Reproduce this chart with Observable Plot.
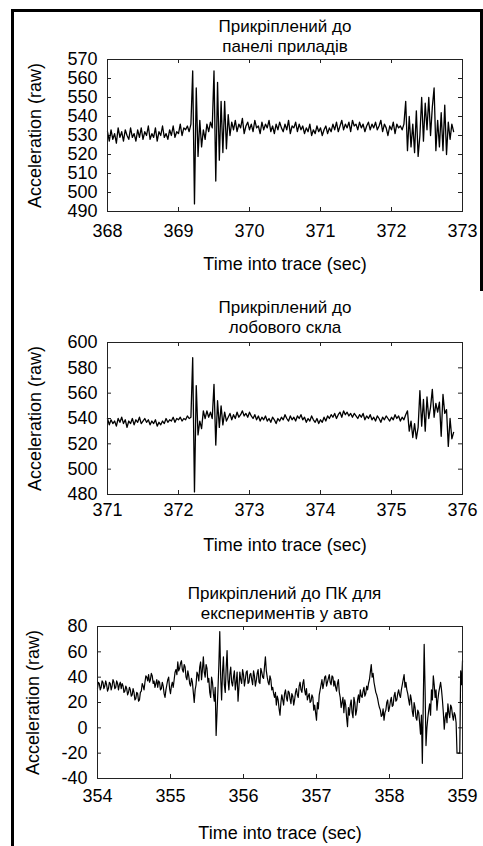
<!DOCTYPE html>
<html>
<head>
<meta charset="utf-8">
<script src="https://cdn.jsdelivr.net/npm/d3@7"></script>
<script src="https://cdn.jsdelivr.net/npm/@observablehq/plot@0.6"></script>
<style>
html, body { margin: 0; padding: 0; background: #fff; }
body { width: 483px; height: 846px; overflow: hidden; position: relative; font-family: "Liberation Sans", Arial, sans-serif; }
.panel { position: absolute; left: 0; }
#frame { position: absolute; left: 11px; top: 9px; width: 480px; height: 900px; border-left: 3px solid #000; border-top: 3px solid #000; z-index: 5; }
#rightbar { position: absolute; left: 480px; top: 9px; width: 3px; height: 282px; background: #000; z-index: 5; }
</style>
</head>
<body>
<div id="p1" class="panel" style="top:4px"></div>
<div id="p2" class="panel" style="top:287px"></div>
<div id="p3" class="panel" style="top:571px"></div>
<div id="frame"></div>
<div id="rightbar"></div>
<script>
// ---------- texts ----------
const titles = [
  "Прикріплений до\nпанелі приладів",
  "Прикріплений до\nлобового скла",
  "Прикріплений до ПК для\nекспериментів у авто"
];
const xLabel = "Time into trace (sec)";
const yLabel = "Acceleration (raw)";

// ---------- tick labels ----------
const xTicks1 = [368, 369, 370, 371, 372, 373];
const yTicks1 = [490, 500, 510, 520, 530, 540, 550, 560, 570];
const xTicks2 = [371, 372, 373, 374, 375, 376];
const yTicks2 = [480, 500, 520, 540, 560, 580, 600];
const xTicks3 = [354, 355, 356, 357, 358, 359];
const yTicks3 = [-40, -20, 0, 20, 40, 60, 80];

// ---------- sampling (start time, step in sec) ----------
const start1 = 368, step1 = 0.025;
const start2 = 371, step2 = 0.025;
const start3 = 354, step3 = 0.0125;

// ---------- series values ----------
const values1 = [
  532,527,533,528,531,526,534,529,532,527,
  533,530,528,534,529,531,527,533,529,534,
  528,532,530,535,528,531,529,534,527,532,
  530,535,529,531,528,533,530,535,529,532,
  531,536,530,534,533,535,
  532,536,564,494,555,519,538,524,533,528,
  536,532,537,534,564,506,558,517,548,521,
  548,523,541,530,537,
  533,538,532,536,534,539,531,535,537,533,536,532,538,534,535,531,537,533,536,534,
  538,532,535,531,536,533,537,534,532,536,533,538,531,535,534,537,532,536,533,535,
  531,534,532,536,530,533,531,535,532,534,530,533,535,531,534,532,536,533,537,532,
  535,538,533,536,534,537,532,538,535,536,533,537,534,536,532,535,537,533,536,534,
  537,533,535,538,532,536,534,530,535,533,537,531,536,534,535,533,536,
  548,522,540,524,536,521,543,519,530,550,
  527,547,533,550,530,545,555,522,538,524,
  542,522,546,520,537,528,536,532
];
const values2 = [
  540,535,539,536,538,534,540,537,541,536,
  539,533,538,536,540,535,539,537,541,536,
  538,540,537,539,535,538,536,539,534,537,
  535,538,536,540,537,539,538,541,537,540,
  539,541,538,540,539,542,540,
  541,588,482,566,527,538,532,546,540,546,541,545,540,567,519,554,533,550,535,545,538,
  541,544,539,543,540,545,541,543,546,542,
  544,541,545,542,540,543,539,542,538,541,
  539,542,538,540,537,541,539,536,540,538,
  541,539,543,540,538,542,539,541,538,542,
  540,543,539,541,537,540,538,542,539,537,
  540,536,539,537,541,538,542,540,543,541,
  544,540,543,545,541,546,543,545,542,544,
  541,544,542,540,543,541,544,539,542,540,
  543,539,541,538,542,540,537,541,539,542,
  540,538,541,539,543,540,542,538,541,539,543,
  546,530,538,525,536,524,533,562,534,555,530,557,540,549,563,541,552,545,553,526,559,544,547,518,540,524,529
];
const values3 = [
  31,36,35,30,32,37,36,31,33,37,
  34,29,31,36,35,30,33,38,36,31,
  32,37,35,30,34,36,31,35,33,28,
  29,33,31,26,28,32,30,25,26,31,
  28,22,23,28,27,21,22,28,29,35,
  33,30,36,41,40,37,42,36,38,43,
  41,35,37,32,35,38,32,37,36,30,
  31,36,33,27,24,30,34,38,40,31,
  27,33,36,32,38,44,46,42,52,45,
  47,51,53,46,44,50,48,40,38,45,
  41,35,33,39,36,28,20,30,34,44,
  42,37,48,52,38,46,56,44,40,50,
  47,36,39,28,24,40,36,27,21,32,
  -6,12,30,50,76,40,22,44,56,34,
  28,47,61,38,30,42,48,36,33,40,
  45,30,36,44,21,32,44,38,35,46,
  42,33,38,44,45,35,36,42,43,38,
  34,45,41,33,37,43,46,36,35,47,
  44,40,39,48,56,45,40,36,34,41,
  38,30,32,27,24,28,18,25,22,15,
  10,20,26,22,18,27,30,24,21,29,
  28,23,19,27,25,18,22,28,31,26,
  24,33,36,30,28,35,38,30,26,31,
  22,25,27,20,21,26,24,14,18,12,
  6,20,15,26,30,34,38,31,35,40,
  41,33,36,39,42,36,34,41,40,33,
  37,32,29,35,38,28,24,16,20,24,
  12,22,18,8,1,16,10,18,22,12,
  8,24,20,10,14,22,26,20,30,25,
  24,29,32,25,27,33,30,35,38,44,
  50,40,43,36,32,28,26,23,19,16,
  14,9,10,15,6,12,14,20,22,13,
  16,21,24,17,18,25,28,21,22,27,
  30,26,24,30,34,38,42,32,36,30,
  27,22,18,26,22,13,9,20,16,8,
  6,14,12,4,-5,10,-28,20,66,30,
  -14,0,8,14,19,10,30,22,41,34,
  24,30,14,22,28,32,36,30,22,12,
  -1,8,12,4,19,12,8,18,16,10,
  6,12,10,4,-20,-20,-20,-20,45,34,
  53
];

const FONT = '"Liberation Sans", Arial, Helvetica, sans-serif';

function drawPanel(el, cfg) {
  const data = cfg.values.map((v, i) => ({t: cfg.start + i * cfg.step, v}));
  const W = 483, mt = 55, mb = 70, mr = 21, plotH = 152;
  const plotW = W - cfg.ml - mr;
  const fmt = d => String(d);
  const chart = Plot.plot({
    width: W,
    height: mt + plotH + mb,
    marginLeft: cfg.ml, marginRight: mr, marginTop: mt, marginBottom: mb,
    style: {background: "transparent", fontFamily: FONT, color: "#000", overflow: "visible"},
    x: {domain: cfg.xDomain, label: null},
    y: {domain: cfg.yDomain, label: null},
    marks: [
      Plot.ruleX(cfg.xTicks, {x: d => d, insetTop: plotH - 4, stroke: "#222"}),
      Plot.ruleX(cfg.xTicks, {x: d => d, insetBottom: plotH - 4, stroke: "#222"}),
      Plot.ruleY(cfg.yTicks, {y: d => d, insetRight: plotW - 4, stroke: "#222"}),
      Plot.ruleY(cfg.yTicks, {y: d => d, insetLeft: plotW - 4, stroke: "#222"}),
      Plot.line(data, {x: "t", y: "v", stroke: "#000", strokeWidth: cfg.sw}),
      Plot.frame({stroke: "#222", strokeWidth: 1}),
      Plot.axisX(cfg.xTicks, {tickSize: 0, tickPadding: cfg.xPad, tickFormat: fmt, fontSize: 18, label: null}),
      Plot.axisY(cfg.yTicks, {tickSize: 0, tickPadding: 10, tickFormat: fmt, fontSize: 18, label: null}),
      Plot.text([cfg.title], {text: d => d, frameAnchor: "top", textAnchor: "middle", lineAnchor: "middle",
        dy: cfg.titleDy, dx: cfg.titleDx, fontSize: 17, lineHeight: 1.17, fill: "#000"}),
      Plot.text([xLabel], {text: d => d, frameAnchor: "bottom", textAnchor: "middle", lineAnchor: "middle",
        dy: cfg.xLabelDy, fontSize: 18, fill: "#000"}),
      Plot.text([yLabel], {text: d => d, frameAnchor: "left", textAnchor: "middle", lineAnchor: "middle",
        rotate: -90, dx: cfg.yLabelDx, fontSize: 18, fill: "#000"})
    ]
  });
  document.getElementById(el).appendChild(chart);
}

drawPanel("p1", {title: titles[0], values: values1, start: start1, step: step1,
  xDomain: [368, 373], yDomain: [490, 570], xTicks: xTicks1, yTicks: yTicks1, sw: 1.3,
  ml: 107, xPad: 13, titleDy: -24, titleDx: 0, xLabelDy: 53, yLabelDx: -72});
drawPanel("p2", {title: titles[1], values: values2, start: start2, step: step2,
  xDomain: [371, 376], yDomain: [480, 600], xTicks: xTicks2, yTicks: yTicks2, sw: 1.3,
  ml: 107, xPad: 9, titleDy: -25.5, titleDx: 0, xLabelDy: 51, yLabelDx: -72});
drawPanel("p3", {title: titles[2], values: values3, start: start3, step: step3,
  xDomain: [354, 359], yDomain: [-40, 80], xTicks: xTicks3, yTicks: yTicks3, sw: 1.2,
  ml: 97, xPad: 11, titleDy: -23.5, titleDx: 4.5, xLabelDy: 55, yLabelDx: -64});
</script>
</body>
</html>
